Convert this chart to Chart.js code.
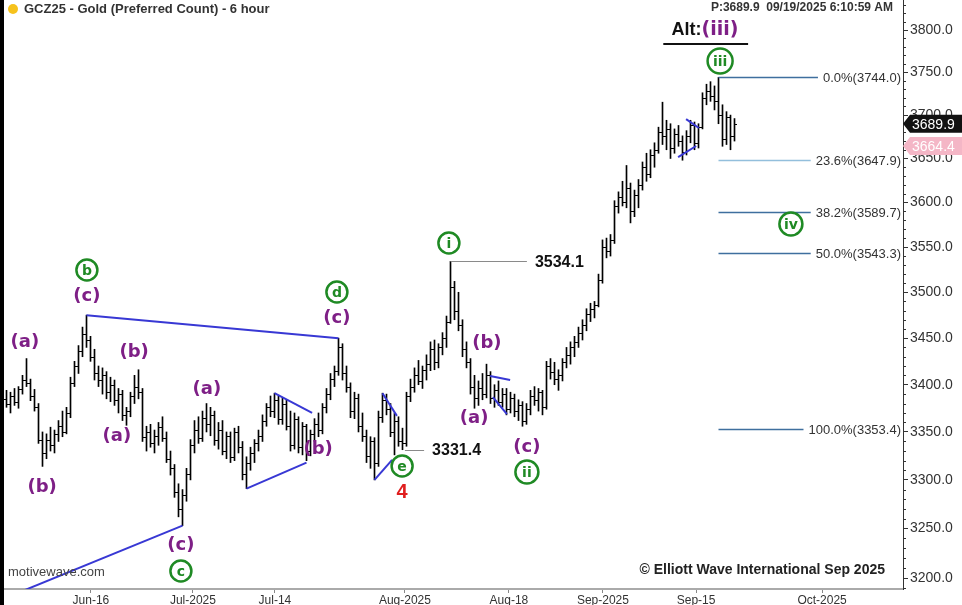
<!DOCTYPE html>
<html><head><meta charset="utf-8">
<script src="https://cdn.jsdelivr.net/npm/chart.js@4.4.0/dist/chart.umd.min.js"></script>
<style>html,body{margin:0;padding:0;background:#fff;overflow:hidden}#wrap{width:962px;height:605px;position:relative}</style>
</head><body><div id="wrap"><canvas id="c" width="962" height="605"></canvas></div>
<script>
// ---- data: 6-hour OHLC bars (bar index 0..182) ----
const opens = [
3385,3380,3388,3382,3395,3405,3402,3388,3376,3342,
3328,3342,3336,3348,3356,3350,3370,3402,3420,3436,
3455,3448,3430,3412,3405,3410,3392,3400,3384,3390,
3368,3372,3388,3398,3392,3345,3350,3338,3346,3355,
3344,3322,3312,3288,3270,3284,3306,3336,3352,3344,
3365,3358,3368,3342,3352,3330,3346,3324,3350,3334,
3306,3318,3328,3338,3346,3362,3376,3372,3384,3364,
3380,3356,3336,3364,3334,3356,3330,3348,3358,3352,
3376,3390,3406,3415,3440,3412,3398,3372,3386,3356,
3346,3325,3340,3318,3366,3384,3374,3350,3362,3340,
3338,3388,3398,3410,3404,3416,3422,3438,3424,3440,
3450,3468,3506,3480,3464,3438,3424,3398,3386,3396,
3390,3410,3386,3394,3382,3390,3374,3386,3372,3378,
3362,3374,3388,3384,3392,3376,3420,3414,3406,3410,
3424,3432,3440,3446,3456,3464,3476,3482,3486,3514,
3550,3546,3558,3596,3606,3600,3616,3590,3608,3620,
3640,3632,3654,3660,3680,3676,3684,3662,3678,3670,
3658,3676,3688,3668,3686,3720,3728,3722,3716,3700,
3672,3698,3676];
const highs = [
3394,3392,3396,3398,3410,3428,3406,3395,3380,3350,
3348,3355,3352,3362,3372,3376,3408,3425,3442,3462,
3475,3452,3438,3420,3418,3414,3408,3405,3396,3394,
3376,3392,3410,3416,3396,3356,3358,3352,3360,3366,
3350,3330,3316,3296,3290,3312,3342,3362,3366,3372,
3380,3376,3372,3360,3362,3350,3350,3354,3356,3340,
3324,3334,3342,3352,3368,3380,3388,3391,3388,3386,
3384,3372,3370,3366,3360,3358,3352,3364,3370,3380,
3396,3412,3420,3450,3444,3420,3402,3392,3390,3370,
3352,3345,3344,3372,3391,3390,3380,3370,3366,3354,
3392,3406,3418,3426,3420,3432,3446,3448,3444,3456,
3474,3534.1,3512,3500,3470,3446,3428,3410,3404,3412,
3422,3414,3400,3404,3396,3396,3392,3390,3384,3382,
3380,3394,3398,3396,3394,3425,3428,3424,3416,3428,
3440,3446,3452,3462,3470,3482,3488,3490,3520,3558,
3560,3564,3602,3612,3624,3642,3622,3614,3626,3646,
3656,3660,3668,3686,3715,3694,3690,3684,3688,3676,
3682,3694,3692,3690,3726,3736,3739,3734,3744,3712,
3704,3700,3696];
const lows = [
3376,3370,3378,3375,3390,3398,3383,3372,3338,3314,
3322,3330,3328,3340,3345,3348,3365,3398,3412,3430,
3440,3425,3405,3398,3390,3385,3382,3378,3370,3362,
3357,3366,3380,3385,3340,3330,3334,3328,3336,3340,
3318,3305,3282,3262,3253,3278,3300,3328,3338,3340,
3350,3346,3336,3332,3326,3322,3318,3320,3328,3300,
3291,3310,3318,3330,3340,3356,3366,3365,3358,3358,
3352,3330,3332,3328,3326,3320,3325,3340,3345,3348,
3370,3384,3398,3410,3405,3392,3365,3364,3350,3340,
3318,3312,3300,3314,3360,3368,3345,3326,3335,3331.4,
3335,3382,3392,3400,3396,3405,3415,3416,3418,3432,
3440,3466,3470,3458,3430,3418,3390,3375,3378,3384,
3386,3380,3376,3378,3376,3368,3370,3366,3362,3356,
3358,3368,3378,3372,3368,3374,3406,3400,3394,3404,
3418,3422,3430,3440,3448,3458,3468,3472,3484,3510,
3538,3540,3554,3588,3596,3594,3577,3584,3594,3614,
3624,3628,3640,3656,3666,3660,3650,3656,3664,3648,
3654,3668,3660,3662,3684,3712,3716,3706,3690,3664,
3666,3660,3670];
const closes = [
3380,3388,3382,3395,3405,3402,3388,3376,3342,3328,
3342,3336,3348,3356,3350,3370,3402,3420,3436,3455,
3448,3430,3412,3405,3410,3392,3400,3384,3390,3368,
3372,3388,3398,3392,3345,3350,3338,3346,3355,3344,
3322,3312,3288,3270,3284,3306,3336,3352,3344,3365,
3358,3368,3342,3352,3330,3346,3324,3350,3334,3306,
3318,3328,3338,3346,3362,3376,3372,3384,3364,3380,
3356,3336,3364,3334,3356,3330,3348,3358,3352,3376,
3390,3406,3415,3440,3412,3398,3372,3386,3356,3346,
3325,3340,3318,3366,3384,3374,3350,3362,3340,3338,
3388,3398,3410,3404,3416,3422,3438,3424,3440,3450,
3468,3506,3480,3464,3438,3424,3398,3386,3396,3390,
3410,3386,3394,3382,3390,3374,3386,3372,3378,3362,
3374,3388,3384,3392,3376,3420,3414,3406,3410,3424,
3432,3440,3446,3456,3464,3476,3482,3486,3514,3550,
3546,3558,3596,3606,3600,3616,3590,3608,3620,3640,
3632,3654,3660,3680,3676,3684,3662,3678,3670,3658,
3676,3688,3668,3686,3720,3728,3722,3716,3700,3672,
3698,3676,3689.9];

// date labels and the bar index where each falls
const dateTickLabels = ['Jun-16','Jul-2025','Jul-14','Aug-2025','Aug-18','Sep-2025','Sep-15','Oct-2025'];
const dateTickIndex  = [21.1, 46.6, 67.1, 99.6, 125.6, 149.1, 172.4, 203.9];
const priceTicks = [3200,3250,3300,3350,3400,3450,3500,3550,3600,3650,3700,3750,3800];
const minorStep = 10;

// Fibonacci retracement levels
const fibLabels = ['0.0%','23.6%','38.2%','50.0%','100.0%'];
const fibPrices = [3744.0,3647.9,3589.7,3543.3,3353.4];
const fibStartIndex = 178;

const lastPrice = 3689.9;
const refPrice = 3664.4;
const markedHigh = {index:111, price:3534.1, endIndex:130.1};
const markedLow  = {index:99.6, price:3331.4, endIndex:104.4};

// wave labels [bar index, price, text]
const purpleLabels = [
 [4.6,3445.8,'(a)'],[8.9,3292.7,'(b)'],[20.1,3495.9,'(c)'],[31.9,3435.0,'(b)'],
 [27.6,3345.7,'(a)'],[43.6,3233.3,'(c)'],[50.1,3395.4,'(a)'],[77.9,3332.1,'(b)'],
 [82.6,3471.9,'(c)'],[120.1,3444.7,'(b)'],[116.9,3364.7,'(a)'],[130.1,3334.2,'(c)']
];
const greenCircles = [
 [20.1,3524.5,'b'],[43.6,3207.1,'c'],[82.6,3500.3,'d'],[110.6,3554.5,'i'],
 [98.9,3314.4,'e'],[130.1,3308.2,'ii'],[178.4,3763.3,'iii'],[196.1,3575.8,'iv']
];
const redLabels = [[98.9,3286.5,'4']];
// trend / triangle lines [i1,p1,i2,p2]
const blueLines = [
 [3.4,3186,44,3253],
 [20,3475,83,3450],
 [60,3291,75,3318],[67,3391,76.4,3370],
 [92,3300,96.4,3320.8],[94,3391,97.6,3366.9],
 [120.9,3409.2,125.9,3405.1],[121.6,3386.9,125.1,3368.9],
 [169.9,3695.4,173.1,3685.0],[167.9,3651.6,172.4,3664.3]
];

const PURPLE = '#7e1f86', GREEN = '#1f8a24', BLUE = '#3838d4';

const ohlcTicks = {
 id:'ohlcTicks',
 afterDatasetsDraw(chart){
  const {ctx, scales:{x,y}} = chart;
  ctx.save(); ctx.strokeStyle='#000'; ctx.lineWidth=1; ctx.beginPath();
  for(let i=0;i<closes.length;i++){
   const px = x.getPixelForValue(i);
   const yo = Math.round(y.getPixelForValue(opens[i]))+0.5;
   const yc = Math.round(y.getPixelForValue(closes[i]))+0.5;
   ctx.moveTo(px-2.5, yo); ctx.lineTo(px, yo);
   ctx.moveTo(px, yc); ctx.lineTo(px+2.5, yc);
  }
  ctx.stroke(); ctx.restore();
 }
};

const annot = {
 id:'annot',
 afterDraw(chart){
  const {ctx, chartArea:ca, scales:{x,y}} = chart;
  const X = v=>x.getPixelForValue(v), Y = v=>y.getPixelForValue(v);
  ctx.save();
  ctx.fillStyle='#000'; ctx.fillRect(0,0,4,605);
  ctx.save(); ctx.beginPath(); ctx.rect(ca.left,ca.top,ca.right-ca.left,ca.bottom-ca.top); ctx.clip();
  ctx.strokeStyle=BLUE; ctx.lineWidth=2;
  blueLines.forEach(l=>{ctx.beginPath();ctx.moveTo(X(l[0]),Y(l[1]));ctx.lineTo(X(l[2]),Y(l[3]));ctx.stroke();});
  ctx.strokeStyle='#8a8a8a'; ctx.lineWidth=1;
  [markedHigh,markedLow].forEach(m=>{const yy=Math.round(Y(m.price))+0.5;ctx.beginPath();ctx.moveTo(X(m.index),yy);ctx.lineTo(X(m.endIndex),yy);ctx.stroke();});
  ctx.fillStyle='#111'; ctx.font='bold 16px "Liberation Sans", Arial'; ctx.textAlign='left'; ctx.textBaseline='middle';
  [markedHigh,markedLow].forEach(m=>{ctx.fillText(m.price.toFixed(1), X(m.endIndex)+8, Y(m.price)+1);});
  ctx.font='13px "Liberation Sans", Arial'; ctx.textAlign='right';
  fibPrices.forEach((p,k)=>{
   const txt = fibLabels[k]+'('+p.toFixed(1)+')';
   const w = ctx.measureText(txt).width;
   const tx = ca.right-2;
   const yy = Math.round(Y(p))+0.5;
   ctx.strokeStyle = k===1 ? '#93bfdc' : '#3f6f9e'; ctx.lineWidth=1.3;
   ctx.beginPath(); ctx.moveTo(X(fibStartIndex),yy); ctx.lineTo(tx-w-5,yy); ctx.stroke();
   ctx.fillStyle='#333'; ctx.fillText(txt, tx, yy+1);
  });
  ctx.textAlign='center'; ctx.textBaseline='middle';
  ctx.fillStyle=PURPLE; ctx.font='bold 18px "DejaVu Sans"';
  purpleLabels.forEach(l=>ctx.fillText(l[2],X(l[0]),Y(l[1])));
  greenCircles.forEach(c=>{
   const cx=X(c[0]), cy=Y(c[1]); const r = c[2].length>2?12.5:(c[2].length>1?11.5:10.5);
   ctx.beginPath(); ctx.arc(cx,cy,r,0,Math.PI*2); ctx.strokeStyle=GREEN; ctx.lineWidth=2.5; ctx.stroke();
   ctx.fillStyle=GREEN; ctx.font='bold 14px "DejaVu Sans"'; ctx.fillText(c[2],cx,cy+1);
  });
  ctx.fillStyle='#e01e1e'; ctx.font='bold 20px "Liberation Sans", Arial';
  redLabels.forEach(l=>ctx.fillText(l[2],X(l[0]),Y(l[1])));
  ctx.restore();
  const ax=X(174.6), ay=Y(3800);
  ctx.font='bold 18px "Liberation Sans", Arial'; const w1=ctx.measureText('Alt:').width;
  ctx.font='bold 19px "DejaVu Sans"'; const w2=ctx.measureText('(iii)').width;
  const sx = ax-(w1+w2)/2;
  ctx.textAlign='left'; ctx.textBaseline='middle';
  ctx.fillStyle='#111'; ctx.font='bold 18px "Liberation Sans", Arial'; ctx.fillText('Alt:',sx,ay);
  ctx.fillStyle=PURPLE; ctx.font='bold 19px "DejaVu Sans"'; ctx.fillText('(iii)',sx+w1,ay);
  ctx.strokeStyle='#111'; ctx.lineWidth=2; ctx.beginPath(); ctx.moveTo(X(164.2),Y(3783.4)); ctx.lineTo(X(185.4),Y(3783.4)); ctx.stroke();
  ctx.beginPath(); ctx.arc(13,9,5,0,Math.PI*2); ctx.fillStyle='#f6c21c'; ctx.fill();
  ctx.fillStyle='#333'; ctx.font='bold 13px "Liberation Sans", Arial'; ctx.textBaseline='middle';
  ctx.fillText('GCZ25 - Gold (Preferred Count) - 6 hour',24,9);
  ctx.font='bold 12px "Liberation Sans", Arial'; ctx.textAlign='right';
  ctx.fillText('P:'+lastPrice.toFixed(1)+'  09/19/2025 6:10:59 AM',893,8);
  ctx.textAlign='left'; ctx.fillStyle='#444'; ctx.font='13px "Liberation Sans", Arial';
  ctx.fillText('motivewave.com',8,572);
  ctx.textAlign='right'; ctx.fillStyle='#222'; ctx.font='bold 14px "Liberation Sans", Arial';
  ctx.fillText('\u00A9 Elliott Wave International Sep 2025',885,570);
  const box=(p,bg,fg)=>{
   const yy=Y(p), l=ca.right; ctx.beginPath();
   ctx.moveTo(l,yy); ctx.lineTo(l+7,yy-9); ctx.lineTo(962,yy-9); ctx.lineTo(962,yy+9); ctx.lineTo(l+7,yy+9); ctx.closePath();
   ctx.fillStyle=bg; ctx.fill();
   ctx.fillStyle=fg; ctx.font='14px "Liberation Sans", Arial'; ctx.textAlign='left'; ctx.fillText(p.toFixed(1),l+9,yy+1);
  };
  box(refPrice,'#f4b6c6','#fff');
  box(lastPrice,'#111','#fff');
  ctx.restore();
 }
};

const minorTicks = {
 id:'minorTicks',
 afterDraw(chart){
  const {ctx, chartArea:ca, scales:{y}} = chart;
  ctx.save(); ctx.strokeStyle='#333'; ctx.lineWidth=1; ctx.beginPath();
  for(let v=3190; v<=3830; v+=minorStep){
   if(v%50===0) continue;
   const yy=Math.round(y.getPixelForValue(v))+0.5;
   ctx.moveTo(ca.right,yy); ctx.lineTo(ca.right+3,yy);
  }
  ctx.stroke(); ctx.restore();
 }
};

new Chart(document.getElementById('c'), {
 type:'bar',
 data:{datasets:[{
  data: highs.map((h,i)=>({x:i, y:[lows[i], h]})),
  backgroundColor:'#000', borderWidth:0, barThickness:1, grouped:false
 }]},
 options:{
  responsive:false, animation:false, devicePixelRatio:1,
  layout:{padding:{left:4,top:0,right:0,bottom:0}},
  plugins:{legend:{display:false}, tooltip:{enabled:false}},
  scales:{
   x:{type:'linear', min:-0.625, max:224.125, offset:false, position:'bottom',
      afterBuildTicks:s=>{s.ticks=dateTickIndex.map(v=>({value:v}));},
      afterFit:s=>{s.height=16; s.paddingLeft=0; s.paddingRight=0;},
      ticks:{autoSkip:false, maxRotation:0, padding:0, color:'#333',
             font:{family:'"Liberation Sans", Arial', size:12},
             callback:(v,i)=>dateTickLabels[i]},
      grid:{drawOnChartArea:false, offset:false, tickLength:4, color:'#888'},
      border:{color:'#aaa', width:2}
   },
   y:{type:'logarithmic', position:'right', min:3189, max:3836,
      afterBuildTicks:s=>{s.ticks=priceTicks.map(v=>({value:v}));},
      afterFit:s=>{s.width=59; s.paddingTop=0; s.paddingBottom=0;},
      ticks:{autoSkip:false, padding:2, color:'#333',
             font:{family:'"Liberation Sans", Arial', size:14},
             callback:(v,i)=>priceTicks[i].toFixed(1)},
      grid:{drawOnChartArea:false, tickLength:5, color:'#333'},
      border:{color:'#333', width:1}
   }
  }
 },
 plugins:[ohlcTicks, minorTicks, annot]
});
</script>
</body></html>
